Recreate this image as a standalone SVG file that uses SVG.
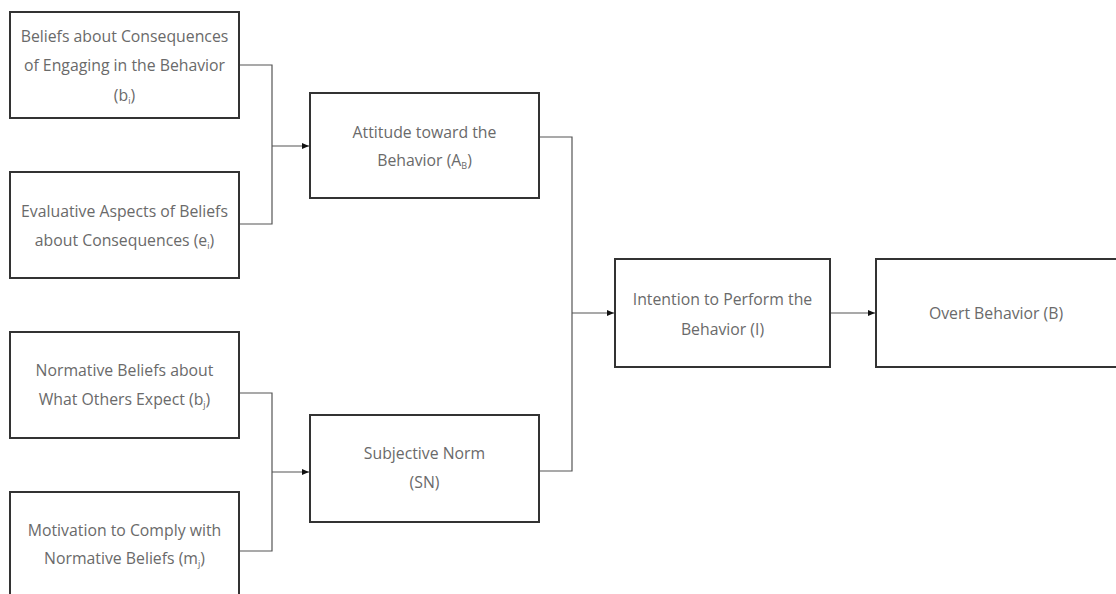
<svg xmlns="http://www.w3.org/2000/svg" width="1116" height="594" viewBox="0 0 1116 594">
<style>
.box{fill:#fff;stroke:#333;stroke-width:2}
.t{font-family:"Open Sans","Noto Sans",sans-serif;font-size:15.8px;fill:#6a6a6a;text-anchor:middle;dominant-baseline:central}
.sub{font-size:9px}
.c{fill:none;stroke:#555;stroke-width:1.2}
</style>
<defs>
<marker id="ah" markerWidth="8" markerHeight="8" refX="7" refY="4" orient="auto" markerUnits="userSpaceOnUse">
<path d="M0,1 L7,4 L0,7 Z" fill="#111"/>
</marker>
</defs>
<rect width="1116" height="594" fill="#fff"/>
<g id="connectors">
<polyline class="c" points="239,65 272,65 272,224 239,224"/>
<line class="c" x1="272" y1="146" x2="309" y2="146" marker-end="url(#ah)"/>
<polyline class="c" points="239,393 272,393 272,551 239,551"/>
<line class="c" x1="272" y1="472" x2="309" y2="472" marker-end="url(#ah)"/>
<polyline class="c" points="539,137 572,137 572,471 539,471"/>
<line class="c" x1="572" y1="313" x2="614" y2="313" marker-end="url(#ah)"/>
<line class="c" x1="830" y1="313" x2="875" y2="313" marker-end="url(#ah)"/>
</g>
<g id="n1">
<rect class="box" x="10" y="12" width="229" height="106"/>
<text class="t" x="124.5" y="36">Beliefs about Consequences</text>
<text class="t" x="124.5" y="65">of Engaging in the Behavior</text>
<text class="t" x="124.5" y="95">(b<tspan class="sub" dy="5">i</tspan><tspan dy="-5">)</tspan></text>
</g>
<g id="n2">
<rect class="box" x="10" y="172" width="229" height="106"/>
<text class="t" x="124.5" y="211">Evaluative Aspects of Beliefs</text>
<text class="t" x="124.5" y="240">about Consequences (e<tspan class="sub" dy="5">i</tspan><tspan dy="-5">)</tspan></text>
</g>
<g id="n3">
<rect class="box" x="10" y="332" width="229" height="106"/>
<text class="t" x="124.5" y="370">Normative Beliefs about</text>
<text class="t" x="124.5" y="399">What Others Expect (b<tspan class="sub" dy="5">j</tspan><tspan dy="-5">)</tspan></text>
</g>
<g id="n4">
<rect class="box" x="10" y="492" width="229" height="112"/>
<text class="t" x="124.5" y="530">Motivation to Comply with</text>
<text class="t" x="124.5" y="558">Normative Beliefs (m<tspan class="sub" dy="5">j</tspan><tspan dy="-5">)</tspan></text>
</g>
<g id="attitude">
<rect class="box" x="310" y="93" width="229" height="105"/>
<text class="t" x="424.5" y="132">Attitude toward the</text>
<text class="t" x="424.5" y="160">Behavior (A<tspan class="sub" dy="5">B</tspan><tspan dy="-5">)</tspan></text>
</g>
<g id="sn">
<rect class="box" x="310" y="415" width="229" height="107"/>
<text class="t" x="424.5" y="453">Subjective Norm</text>
<text class="t" x="424.5" y="482">(SN)</text>
</g>
<g id="intention">
<rect class="box" x="615" y="259" width="215" height="108"/>
<text class="t" x="722.5" y="299">Intention to Perform the</text>
<text class="t" x="722.5" y="329">Behavior (I)</text>
</g>
<g id="overt">
<rect class="box" x="876" y="259" width="250" height="108"/>
<text class="t" x="996" y="313">Overt Behavior (B)</text>
</g>
</svg>
